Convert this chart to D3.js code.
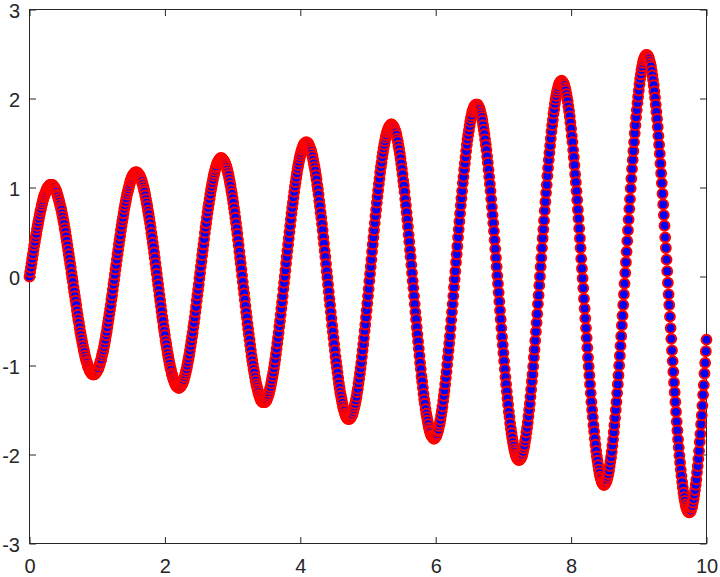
<!DOCTYPE html>
<html>
<head>
<meta charset="utf-8">
<script src="https://cdn.jsdelivr.net/npm/d3@7"></script>
<style>
  html, body { margin: 0; padding: 0; background: #fff; }
  svg { display: block; }
  text { font-family: "Liberation Sans", Arial, Helvetica, sans-serif; }
</style>
</head>
<body>
<div id="chart"></div>
<script>
// samples every 0.01 from x = 0 to 10, y values
const xStart = 0;
const xStep = 0.01;
const yValues = [
  0,0.05,0.10,0.15,0.20,0.25,0.30,0.35,0.39,0.44,0.48,0.53,0.57,0.61,0.65,0.69,0.73,0.76,0.80,0.83,0.86,0.89,0.91,0.93,0.95,0.97,0.99,1.00,1.01,1.02,1.03,1.03,1.03,1.03,1.03,1.02,1.01,1.00,0.98,0.97,0.95,0.92,0.90,0.87,0.84,0.81,0.78,0.75,0.71,0.67,0.63,0.59,0.54,0.50,0.45,0.40,0.35,0.30,0.25,0.20,0.15,0.10,0.04,
  -0.01,-0.06,-0.12,-0.17,-0.22,-0.27,-0.32,-0.38,-0.43,-0.48,-0.52,-0.57,-0.62,-0.66,-0.70,-0.74,-0.78,-0.82,-0.85,-0.89,-0.92,-0.95,-0.97,-1.00,-1.02,-1.04,-1.06,-1.07,-1.08,-1.09,-1.10,-1.10,-1.10,-1.10,-1.09,-1.08,-1.07,-1.06,-1.04,-1.03,-1.00,-0.98,-0.95,-0.93,-0.89,-0.86,-0.83,-0.79,-0.75,-0.71,-0.66,-0.62,-0.57,-0.52,-0.47,-0.42,-0.37,-0.32,-0.26,-0.21,-0.15,-0.09,-0.04,
  0.02,0.08,0.13,0.19,0.25,0.30,0.36,0.41,0.46,0.52,0.57,0.62,0.66,0.71,0.76,0.80,0.84,0.88,0.92,0.95,0.98,1.01,1.04,1.07,1.09,1.11,1.13,1.14,1.15,1.16,1.17,1.17,1.17,1.17,1.16,1.15,1.14,1.13,1.11,1.09,1.07,1.04,1.01,0.98,0.95,0.91,0.87,0.83,0.79,0.74,0.70,0.65,0.60,0.55,0.49,0.44,0.38,0.33,0.27,0.21,0.15,0.09,0.03,
  -0.03,-0.09,-0.15,-0.21,-0.27,-0.33,-0.39,-0.45,-0.50,-0.56,-0.61,-0.66,-0.72,-0.76,-0.81,-0.86,-0.90,-0.94,-0.98,-1.02,-1.05,-1.09,-1.11,-1.14,-1.16,-1.18,-1.20,-1.22,-1.23,-1.24,-1.24,-1.25,-1.25,-1.24,-1.24,-1.23,-1.21,-1.20,-1.18,-1.16,-1.13,-1.10,-1.07,-1.04,-1.00,-0.96,-0.92,-0.88,-0.83,-0.78,-0.73,-0.68,-0.63,-0.57,-0.52,-0.46,-0.40,-0.34,-0.27,-0.21,-0.15,-0.09,-0.02,
  0.04,0.11,0.17,0.24,0.30,0.36,0.42,0.49,0.55,0.60,0.66,0.72,0.77,0.82,0.87,0.92,0.97,1.01,1.05,1.09,1.13,1.16,1.19,1.22,1.24,1.27,1.28,1.30,1.31,1.32,1.33,1.33,1.33,1.32,1.31,1.30,1.29,1.27,1.25,1.23,1.20,1.17,1.14,1.10,1.06,1.02,0.97,0.93,0.88,0.83,0.77,0.72,0.66,0.60,0.54,0.48,0.41,0.35,0.28,0.21,0.15,0.08,0.01,
  -0.06,-0.13,-0.19,-0.26,-0.33,-0.40,-0.46,-0.53,-0.59,-0.65,-0.71,-0.77,-0.83,-0.89,-0.94,-0.99,-1.04,-1.08,-1.13,-1.17,-1.21,-1.24,-1.27,-1.30,-1.33,-1.35,-1.37,-1.39,-1.40,-1.41,-1.41,-1.41,-1.41,-1.41,-1.40,-1.39,-1.37,-1.35,-1.33,-1.30,-1.27,-1.24,-1.20,-1.16,-1.12,-1.08,-1.03,-0.98,-0.93,-0.87,-0.81,-0.75,-0.69,-0.63,-0.56,-0.50,-0.43,-0.36,-0.29,-0.22,-0.14,-0.07,
  0.00,0.07,0.15,0.22,0.29,0.36,0.43,0.50,0.57,0.64,0.71,0.77,0.83,0.89,0.95,1.01,1.06,1.11,1.16,1.21,1.25,1.29,1.33,1.36,1.39,1.42,1.44,1.46,1.48,1.49,1.50,1.50,1.51,1.50,1.50,1.49,1.47,1.45,1.43,1.41,1.38,1.35,1.31,1.27,1.23,1.19,1.14,1.09,1.03,0.98,0.92,0.85,0.79,0.72,0.66,0.59,0.52,0.44,0.37,0.29,0.22,0.14,0.06,
  -0.01,-0.09,-0.17,-0.25,-0.32,-0.40,-0.47,-0.55,-0.62,-0.69,-0.76,-0.83,-0.90,-0.96,-1.02,-1.08,-1.14,-1.20,-1.25,-1.30,-1.34,-1.38,-1.42,-1.46,-1.49,-1.51,-1.54,-1.56,-1.58,-1.59,-1.60,-1.60,-1.60,-1.60,-1.59,-1.58,-1.56,-1.55,-1.52,-1.49,-1.46,-1.43,-1.39,-1.35,-1.30,-1.26,-1.20,-1.15,-1.09,-1.03,-0.97,-0.90,-0.83,-0.76,-0.69,-0.61,-0.54,-0.46,-0.38,-0.30,-0.22,-0.14,-0.05,
  0.03,0.11,0.19,0.28,0.36,0.44,0.52,0.60,0.68,0.75,0.83,0.90,0.97,1.04,1.10,1.17,1.23,1.28,1.34,1.39,1.44,1.48,1.52,1.56,1.59,1.62,1.64,1.66,1.68,1.69,1.70,1.71,1.71,1.70,1.69,1.68,1.66,1.64,1.62,1.59,1.55,1.52,1.47,1.43,1.38,1.33,1.27,1.21,1.15,1.08,1.02,0.95,0.87,0.80,0.72,0.64,0.56,0.47,0.39,0.30,0.22,0.13,0.04,
  -0.05,-0.13,-0.22,-0.31,-0.40,-0.48,-0.57,-0.65,-0.73,-0.81,-0.89,-0.97,-1.04,-1.12,-1.18,-1.25,-1.32,-1.38,-1.43,-1.49,-1.54,-1.58,-1.62,-1.66,-1.70,-1.73,-1.75,-1.78,-1.79,-1.80,-1.81,-1.82,-1.82,-1.81,-1.80,-1.79,-1.77,-1.74,-1.72,-1.68,-1.65,-1.61,-1.56,-1.51,-1.46,-1.40,-1.34,-1.28,-1.21,-1.14,-1.07,-0.99,-0.91,-0.83,-0.75,-0.67,-0.58,-0.49,-0.40,-0.31,-0.22,-0.12,-0.03,
  0.06,0.16,0.25,0.34,0.44,0.53,0.62,0.71,0.80,0.88,0.96,1.05,1.12,1.20,1.27,1.34,1.41,1.48,1.54,1.59,1.64,1.69,1.74,1.78,1.81,1.85,1.87,1.89,1.91,1.92,1.93,1.93,1.93,1.93,1.91,1.90,1.88,1.85,1.82,1.79,1.75,1.70,1.65,1.60,1.54,1.48,1.42,1.35,1.28,1.20,1.12,1.04,0.96,0.87,0.78,0.69,0.60,0.51,0.41,0.31,0.21,0.11,0.01,
  -0.08,-0.18,-0.28,-0.38,-0.48,-0.58,-0.68,-0.77,-0.86,-0.95,-1.04,-1.13,-1.21,-1.29,-1.37,-1.44,-1.52,-1.58,-1.65,-1.71,-1.76,-1.81,-1.86,-1.90,-1.94,-1.97,-2.00,-2.02,-2.04,-2.05,-2.06,-2.06,-2.06,-2.05,-2.04,-2.02,-2.00,-1.97,-1.93,-1.90,-1.85,-1.81,-1.75,-1.70,-1.64,-1.57,-1.50,-1.43,-1.35,-1.27,-1.18,-1.10,-1.01,-0.91,-0.82,-0.72,-0.62,-0.52,-0.42,-0.31,-0.21,-0.10,
  0.00,0.11,0.21,0.32,0.43,0.53,0.63,0.74,0.84,0.94,1.03,1.13,1.22,1.31,1.39,1.47,1.55,1.63,1.70,1.76,1.83,1.88,1.94,1.99,2.03,2.07,2.10,2.13,2.16,2.17,2.19,2.19,2.20,2.19,2.18,2.17,2.15,2.12,2.09,2.05,2.01,1.97,1.91,1.86,1.80,1.73,1.66,1.58,1.51,1.42,1.34,1.25,1.15,1.06,0.96,0.86,0.75,0.65,0.54,0.43,0.32,0.20,0.09,
  -0.02,-0.13,-0.25,-0.36,-0.47,-0.58,-0.69,-0.80,-0.91,-1.01,-1.11,-1.21,-1.31,-1.41,-1.50,-1.58,-1.67,-1.74,-1.82,-1.89,-1.96,-2.02,-2.07,-2.12,-2.17,-2.21,-2.25,-2.27,-2.30,-2.32,-2.33,-2.34,-2.34,-2.33,-2.32,-2.30,-2.28,-2.25,-2.22,-2.18,-2.13,-2.08,-2.03,-1.97,-1.90,-1.83,-1.75,-1.67,-1.59,-1.50,-1.41,-1.31,-1.21,-1.11,-1.00,-0.89,-0.78,-0.67,-0.55,-0.44,-0.32,-0.20,-0.08,
  0.04,0.16,0.28,0.40,0.52,0.64,0.76,0.87,0.99,1.10,1.21,1.31,1.41,1.51,1.61,1.70,1.79,1.87,1.95,2.02,2.09,2.16,2.22,2.27,2.32,2.36,2.40,2.43,2.45,2.47,2.48,2.49,2.49,2.48,2.47,2.45,2.42,2.39,2.36,2.31,2.26,2.21,2.15,2.08,2.01,1.93,1.85,1.77,1.68,1.58,1.48,1.38,1.27,1.16,1.05,0.93,0.81,0.69,0.57,0.44,0.32,0.19,0.06,
  -0.07,-0.20,-0.32,-0.45,-0.58,-0.70,-0.83,-0.95,-1.07,-1.19,-1.30,-1.41,-1.52,-1.63,-1.73,-1.83,-1.92,-2.01,-2.09,-2.17,-2.24,-2.31,-2.37,-2.43,-2.48,-2.52,-2.56,-2.59,-2.61,-2.63,-2.64,-2.65,-2.65,-2.64,-2.63,-2.60,-2.58,-2.54,-2.50,-2.45,-2.40,-2.34,-2.28,-2.20,-2.13,-2.05,-1.96,-1.86,-1.77,-1.66,-1.56,-1.45,-1.33,-1.22,-1.09,-0.97,-0.84,-0.71
];
const xTicks = [0, 2, 4, 6, 8, 10];
const yTicks = [-3, -2, -1, 0, 1, 2, 3];

var width = 720, height = 577;
var axisColor = "#262626";

var points = yValues.map(function (y, i) {
  return { x: xStart + i * xStep, y: y };
});

var x = d3.scaleLinear().domain([0, 10]).range([29.5, 706.5]);
var y = d3.scaleLinear().domain([-3, 3]).range([543.5, 9.5]);

// plain integers with an ascii hyphen, the way matlab prints them
var plainLabel = function (d) { return String(d); };

var svg = d3.select("#chart").append("svg")
  .attr("width", width)
  .attr("height", height);

// axes go under the data, like matlab's default layer
function styleAxis(g) {
  g.select(".domain").remove();
  g.selectAll(".tick line").attr("stroke", axisColor).attr("stroke-width", 1);
  g.selectAll(".tick text")
    .attr("fill", axisColor)
    .style("font-size", "20px")
    .style("font-family", "'Liberation Sans', Arial, Helvetica, sans-serif");
}

svg.append("g")
  .attr("transform", "translate(0," + y(-3) + ")")
  .call(d3.axisBottom(x).tickValues(xTicks).tickFormat(plainLabel)
    .tickSizeInner(-6.5).tickSizeOuter(0).tickPadding(15))
  .call(styleAxis);

svg.append("g")
  .attr("transform", "translate(" + x(0) + ",0)")
  .call(d3.axisLeft(y).tickValues(yTicks).tickFormat(plainLabel)
    .tickSizeInner(-6.5).tickSizeOuter(0).tickPadding(9.5))
  .call(styleAxis)
  .call(function (g) { g.selectAll(".tick text").attr("dy", "0.39em"); });

// mirrored ticks on top and right, no labels
svg.append("g")
  .attr("transform", "translate(0," + y(3) + ")")
  .call(d3.axisTop(x).tickValues(xTicks).tickSizeInner(-6.5).tickSizeOuter(0).tickFormat(""))
  .call(styleAxis);

svg.append("g")
  .attr("transform", "translate(" + x(10) + ",0)")
  .call(d3.axisRight(y).tickValues(yTicks).tickSizeInner(-6.5).tickSizeOuter(0).tickFormat(""))
  .call(styleAxis);

svg.append("rect")
  .attr("x", x(0))
  .attr("y", y(3))
  .attr("width", x(10) - x(0))
  .attr("height", y(-3) - y(3))
  .attr("fill", "none")
  .attr("stroke", axisColor)
  .attr("stroke-width", 1);

// markers, drawn in order so later ones sit on top
svg.append("g")
  .selectAll("circle")
  .data(points)
  .join("circle")
  .attr("cx", function (d) { return x(d.x); })
  .attr("cy", function (d) { return y(d.y); })
  .attr("r", 4.9)
  .attr("fill", "#0000ff")
  .attr("stroke", "#ff0000")
  .attr("stroke-width", 2);
</script>
</body>
</html>
